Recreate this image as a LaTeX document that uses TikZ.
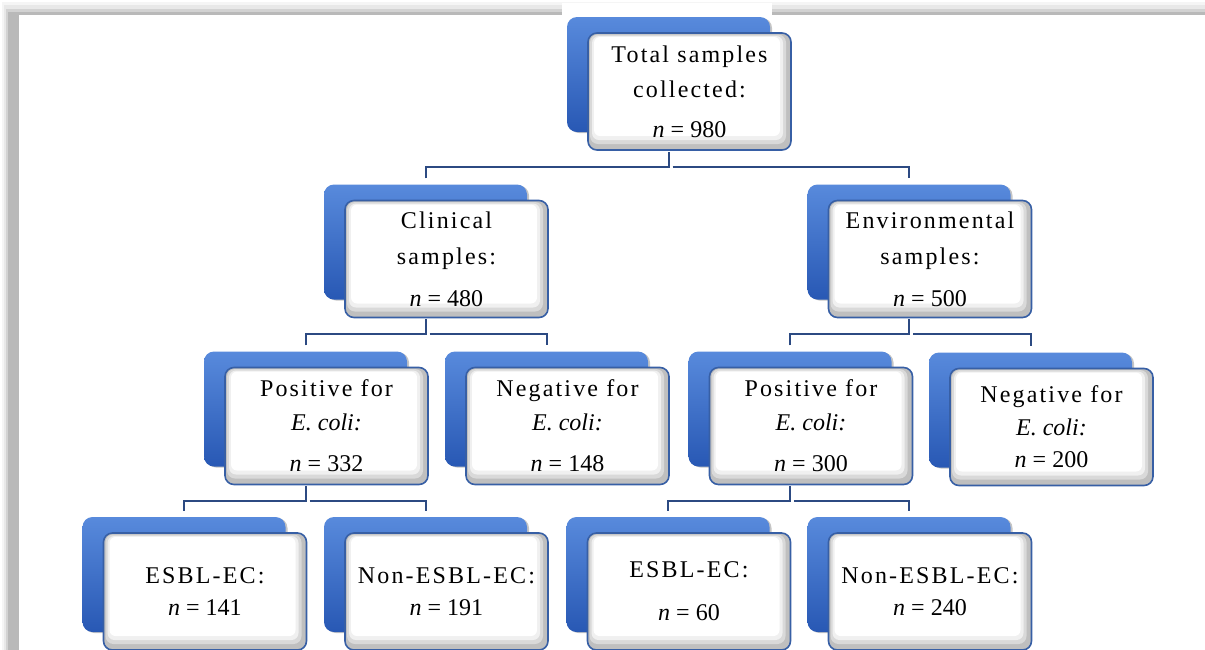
\documentclass[tikz,border=0pt]{standalone}
\usepackage{fontspec}
\setmainfont{Liberation Serif}
\newfontfamily\spc[LetterSpace=9]{Liberation Serif}
\usetikzlibrary{shadows}
\definecolor{bluetop}{RGB}{88,138,220}
\definecolor{bluebot}{RGB}{40,88,180}
\definecolor{frameblue}{RGB}{55,95,165}
\definecolor{linkblue}{RGB}{44,74,130}
\tikzset{
  backbox/.style={rectangle, rounded corners=10pt, minimum width=203pt, minimum height=115pt,
    top color=bluetop, bottom color=bluebot, draw=none, inner sep=0pt,
    drop shadow={shadow xshift=2pt, shadow yshift=-1pt, opacity=0.45, fill=gray}},
  frontbox/.style={rectangle, rounded corners=9pt, minimum width=203pt, minimum height=117pt,
    fill=gray!50, draw=frameblue, line width=1.6pt, align=center, inner sep=0pt,
    font=\fontsize{24}{33}\selectfont,
    path picture={
      \fill[gray!30, rounded corners=8pt] ([xshift=2pt,yshift=-1.5pt]path picture bounding box.north west) rectangle ([xshift=-5pt,yshift=6pt]path picture bounding box.south east);
      \fill[gray!12, rounded corners=7pt] ([xshift=4pt,yshift=-3pt]path picture bounding box.north west) rectangle ([xshift=-8pt,yshift=10pt]path picture bounding box.south east);
      \fill[white, rounded corners=6pt] ([xshift=6pt,yshift=-4pt]path picture bounding box.north west) rectangle ([xshift=-11pt,yshift=14pt]path picture bounding box.south east);
    }},
  link/.style={draw=linkblue, line width=2pt}
}
\newcommand\tbox[4]{%
  \node[backbox] (#1b) at (#2-21,#3-17) {};
  \node[frontbox] (#1) at (#2,#3) {#4};
}
\newcommand\nn[1]{\textit{n} = #1}
\newcommand\tree[3]{%
  \draw[link] ([yshift=6pt]#2b.north) |- ([yshift=-16pt]#1.south -| #1b.center) -- ([yshift=-1pt]#1b.center |- #1.south);
  \draw[link] ([yshift=-16pt,xshift=4pt]#1.south -| #1b.center) -| ([yshift=6pt]#3b.north);
}
\begin{document}
\begin{tikzpicture}[x=1pt,y=-1pt]
\useasboundingbox (0,0) rectangle (1205,649);
% frame shadow
\fill[gray!8] (2,2) rectangle (1210,660);
\fill[gray!18] (4,5) rectangle (1210,660);
\fill[gray!35] (6,9) rectangle (1210,660);
\fill[gray!55] (8,12) rectangle (1210,660);
\fill[white] (19,15) rectangle (1210,660);
\fill[white] (562,3) rectangle (772,16);
% boxes
\tbox{top}{689.5}{91.5}{{\spc Total samples}\\[2pt]{\spc collected:}\\[7pt]\nn{980}}
\tbox{clin}{446.5}{259}{{\spc Clinical}\\[3pt]{\spc samples:}\\[9pt]\nn{480}}
\tbox{env}{930}{259}{{\spc Environmental}\\[3pt]{\spc samples:}\\[9pt]\nn{500}}
\tbox{posc}{326.5}{426}{{\spc Positive for}\\[1pt]\textit{E. coli:}\\[8pt]\nn{332}}
\tbox{negc}{567.5}{426}{{\spc Negative for}\\[1pt]\textit{E. coli:}\\[8pt]\nn{148}}
\tbox{pose}{811}{426}{{\spc Positive for}\\[1pt]\textit{E. coli:}\\[8pt]\nn{300}}
\tbox{nege}{1051.5}{427}{{\spc Negative for}\\\textit{E. coli:}\\[-1pt]\nn{200}}
\tbox{esc}{205}{591.5}{{\spc ESBL-EC:}\\[-1pt]\nn{141}}
\tbox{nesc}{446.5}{591.5}{{\spc Non-ESBL-EC:}\\[-1pt]\nn{191}}
\tbox{ese}{689}{591.5}{{\spc ESBL-EC:}\\[10pt]\nn{60}}
\tbox{nese}{930}{591.5}{{\spc Non-ESBL-EC:}\\[-1pt]\nn{240}}
% connectors
\tree{top}{clin}{env}
\tree{clin}{posc}{negc}
\tree{env}{pose}{nege}
\tree{posc}{esc}{nesc}
\tree{pose}{ese}{nese}
\end{tikzpicture}
\end{document}
